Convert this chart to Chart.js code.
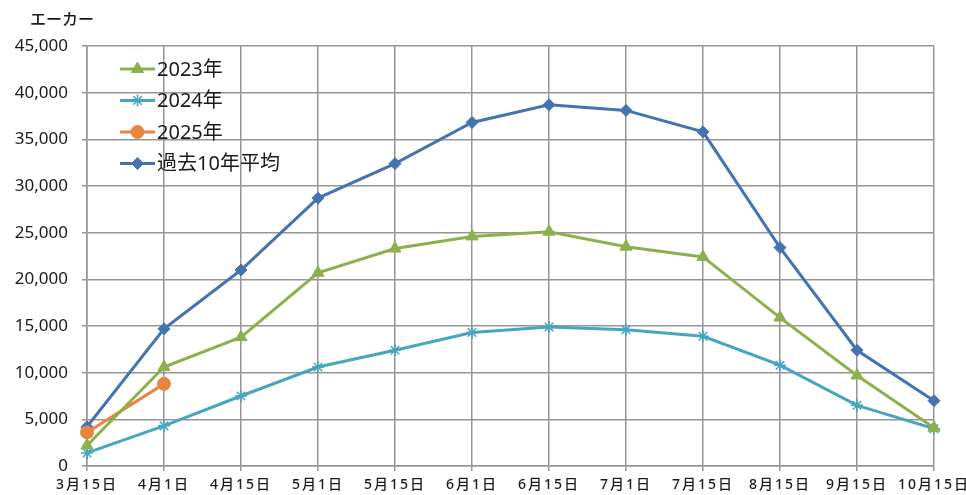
<!DOCTYPE html>
<html lang="ja">
<head>
<meta charset="utf-8">
<title>作付面積の推移</title>
<script src="https://cdn.jsdelivr.net/npm/chart.js@4/dist/chart.umd.min.js"></script>
<style>
  html, body { margin: 0; padding: 0; background: #fff; }
  #wrap { width: 966px; height: 495px; position: relative; }
</style>
</head>
<body>
<div id="wrap"><canvas id="c" width="966" height="495"></canvas></div>
<script>
// Survey dates (x categories)
const dates = ['3月15日', '4月1日', '4月15日', '5月1日', '5月15日', '6月1日',
               '6月15日', '7月1日', '7月15日', '8月15日', '9月15日', '10月15日'];

// Acreage by survey date
const acres2023 = [2200, 10600, 13800, 20700, 23300, 24600, 25100, 23500, 22400, 15900, 9700, 4100];
const acres2024 = [1400, 4300, 7500, 10600, 12400, 14300, 14900, 14600, 13900, 10800, 6500, 4000];
const acres2025 = [3600, 8800, null, null, null, null, null, null, null, null, null, null];
const acresAvg10 = [4200, 14700, 21000, 28700, 32400, 36800, 38700, 38100, 35800, 23400, 12400, 7000];

// Y axis ticks
const yTicks = [0, 5000, 10000, 15000, 20000, 25000, 30000, 35000, 40000, 45000];
const yUnit = 'エーカー';

const FONT = "'Noto Sans', 'Noto Sans CJK JP', sans-serif";
const GRID = '#959595';

// Legend drawn inside the plot area, top-left
const insideLegend = {
  id: 'insideLegend',
  afterDraw(chart) {
    const { ctx, chartArea } = chart;
    const x1 = chartArea.left + 33, x2 = chartArea.left + 68;
    let y = chartArea.top + 23;
    ctx.save();
    chart.data.datasets.forEach(ds => {
      ctx.strokeStyle = ds.borderColor;
      ctx.lineWidth = 3;
      ctx.beginPath(); ctx.moveTo(x1, y); ctx.lineTo(x2, y); ctx.stroke();
      ctx.fillStyle = ds.pointBackgroundColor;
      ctx.strokeStyle = ds.pointBorderColor;
      ctx.lineWidth = ds.pointBorderWidth;
      Chart.helpers.drawPoint(ctx, {
        pointStyle: ds.pointStyle, radius: ds.pointRadius, rotation: 0,
        borderWidth: ds.pointBorderWidth
      }, (x1 + x2) / 2, y);
      ctx.fillStyle = '#1a1a1a';
      ctx.font = '20px ' + FONT;
      ctx.textBaseline = 'middle';
      ctx.textAlign = 'left';
      ctx.fillText(ds.label, x2 + 2, y + 1);
      y += 31.5;
    });
    ctx.restore();
  }
};

// Unit caption above the value axis
const unitCaption = {
  id: 'unitCaption',
  afterDraw(chart) {
    const { ctx, chartArea } = chart;
    ctx.save();
    ctx.fillStyle = '#1a1a1a';
    ctx.font = '500 16px ' + FONT;
    ctx.textBaseline = 'middle';
    ctx.textAlign = 'left';
    ctx.fillText(yUnit, chartArea.left - 57, 20);
    ctx.restore();
  }
};

// Slightly spaced date labels on the category axis
const spacedDates = {
  id: 'spacedDates',
  beforeDraw(chart) {
    const sx = chart.scales.x;
    if (!sx || sx._spaced) return;
    sx._spaced = true;
    const orig = sx.drawLabels;
    sx.drawLabels = function (area) {
      const ctx = this.ctx;
      ctx.save();
      ctx.letterSpacing = '2px';
      orig.call(this, area);
      ctx.restore();
    };
  }
};

function series(label, data, color, style, radius, borderW, fill) {
  return {
    label, data,
    borderColor: color,
    backgroundColor: color,
    borderWidth: 3,
    pointStyle: style,
    pointRadius: radius,
    pointHoverRadius: radius,
    pointBackgroundColor: fill,
    pointBorderColor: color,
    pointBorderWidth: borderW,
    tension: 0,
    spanGaps: false
  };
}

new Chart(document.getElementById('c'), {
  type: 'line',
  data: {
    labels: dates,
    datasets: [
      series('2023年', acres2023, '#8db04e', 'triangle', 7, 1, '#8db04e'),
      series('2024年', acres2024, '#46a5bf', 'star', 6, 1.5, '#46a5bf'),
      series('2025年', acres2025, '#e9853f', 'circle', 6.5, 1, '#e9853f'),
      series('過去10年平均', acresAvg10, '#4473b0', 'rectRot', 6, 1, '#4473b0')
    ]
  },
  options: {
    responsive: false,
    animation: false,
    layout: { padding: { top: 46, right: 32, bottom: 0, left: 0 } },
    plugins: {
      legend: { display: false },
      tooltip: { enabled: false },
      title: { display: false }
    },
    scales: {
      x: {
        type: 'category',
        offset: false,
        grid: { color: GRID, lineWidth: 1.5, tickLength: 5, drawTicks: true },
        border: { color: GRID, width: 1.5 },
        ticks: {
          color: '#1a1a1a',
          font: { family: FONT, size: 14, weight: '500' },
          padding: 6,
          maxRotation: 0,
          autoSkip: false
        },
        afterFit(s) {
          s.height = 29;
          // let the last date label run past the canvas edge
          s.paddingLeft = 0;
          s.paddingRight = 0;
        }
      },
      y: {
        min: yTicks[0],
        max: yTicks[yTicks.length - 1],
        afterBuildTicks(s) { s.ticks = yTicks.map(v => ({ value: v })); },
        grid: { color: GRID, lineWidth: 1.5, tickLength: 5, drawTicks: true },
        border: { color: GRID, width: 1.5 },
        ticks: {
          color: '#1a1a1a',
          font: { family: FONT, size: 17 },
          padding: 14,
          callback: v => v.toLocaleString('en-US')
        },
        afterFit(s) { s.width = 87; }
      }
    }
  },
  plugins: [spacedDates, insideLegend, unitCaption]
});
</script>
</body>
</html>
